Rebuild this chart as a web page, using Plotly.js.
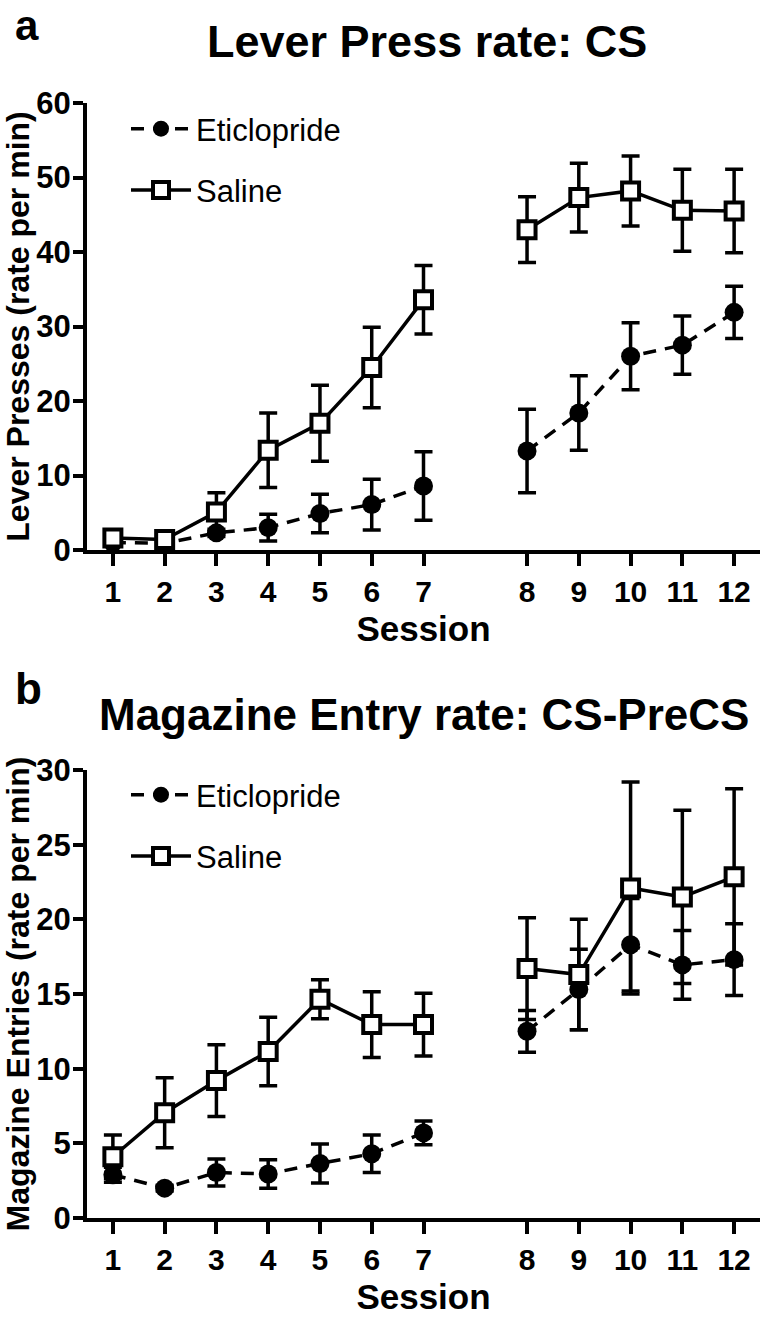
<!DOCTYPE html>
<html>
<head>
<meta charset="utf-8">
<script src="https://cdn.plot.ly/plotly-3.0.1.min.js"></script>
<style>
  html, body { margin: 0; padding: 0; background: #fff; }
  #chart { width: 768px; height: 1317px; }
</style>
</head>
<body>
<div id="chart"></div>
<script>
// Sessions (a gap is left between session 7 and 8 on the axis)
const sessions = [1, 2, 3, 4, 5, 6, 7, 8, 9, 10, 11, 12];

// a: Lever Press rate: CS (mean, SEM)
const leverEtic = [1.0, 0.9, 2.3, 3.0, 4.9, 6.1, 8.6, 13.3, 18.4, 26.0, 27.5, 31.9];
const leverEticErr = [0.3, 0.3, 0.5, 1.8, 2.6, 3.4, 4.6, 5.6, 5.0, 4.5, 3.9, 3.5];
const leverSal = [1.6, 1.4, 5.1, 13.4, 17.0, 24.5, 33.6, 43.0, 47.3, 48.2, 45.6, 45.5];
const leverSalErr = [0.4, 0.3, 2.6, 5.0, 5.1, 5.4, 4.6, 4.4, 4.6, 4.7, 5.5, 5.6];

// b: Magazine Entry rate: CS-PreCS (mean, SEM)
const magEtic = [2.9, 2.0, 3.05, 2.95, 3.65, 4.3, 5.7, 12.5, 15.3, 18.3, 16.95, 17.3];
const magEticErr = [0.5, 0.2, 0.9, 0.95, 1.3, 1.25, 0.8, 1.4, 2.7, 3.1, 2.3, 2.4];
const magSal = [4.1, 7.05, 9.2, 11.15, 14.65, 12.95, 12.95, 16.7, 16.3, 22.1, 21.5, 22.85];
const magSalErr = [1.45, 2.35, 2.4, 2.3, 1.3, 2.2, 2.1, 3.4, 3.7, 7.1, 5.8, 5.9];

const FONT = 'Liberation Sans, Arial, sans-serif';

// axis position of a session: sessions after 7 are shifted one slot right
function pos(s) { return s <= 7 ? s : s + 1; }

// insert a null between session 7 and 8 so the line breaks
function withGap(arr, gapValue) {
  const out = [];
  for (let i = 0; i < arr.length; ++i) {
    out.push(arr[i]);
    if (sessions[i] === 7) out.push(gapValue);
  }
  return out;
}
const xPos = withGap(sessions.map(pos), 8);

function etic(y, err, xa, ya, leg) {
  return {
    x: xPos, y: withGap(y, null), xaxis: xa, yaxis: ya,
    name: 'Eticlopride', legend: leg, legendgroup: 'e' + leg,
    mode: 'lines+markers', type: 'scatter', connectgaps: false, cliponaxis: false,
    line: { color: 'black', width: 3.5, dash: '13px,9px' },
    marker: { symbol: 'circle', size: 19, color: 'black' },
    error_y: { type: 'data', array: withGap(err, null), visible: true, color: 'black', thickness: 3.5, width: 9 },
  };
}
function saline(y, err, xa, ya, leg) {
  return {
    x: xPos, y: withGap(y, null), xaxis: xa, yaxis: ya,
    name: 'Saline', legend: leg, legendgroup: 's' + leg,
    mode: 'lines+markers', type: 'scatter', connectgaps: false, cliponaxis: false,
    line: { color: 'black', width: 3.5 },
    marker: { symbol: 'square', size: 17, color: 'white', line: { color: 'black', width: 4 } },
    error_y: { type: 'data', array: withGap(err, null), visible: true, color: 'black', thickness: 3.5, width: 9 },
  };
}

const data = [
  etic(leverEtic, leverEticErr, 'x', 'y', 'legend'),
  saline(leverSal, leverSalErr, 'x', 'y', 'legend'),
  etic(magEtic, magEticErr, 'x2', 'y2', 'legend2'),
  saline(magSal, magSalErr, 'x2', 'y2', 'legend2'),
];

const H = 1317, W = 768;
function xAxis(anchor) {
  return {
    anchor: anchor, domain: [87 / W, 760 / W], range: [0.5, 13.5],
    tickmode: 'array', tickvals: sessions.map(pos), ticktext: sessions.map(String),
    ticks: 'outside', ticklen: 12, tickwidth: 4, tickcolor: 'black',
    showline: true, linewidth: 4, linecolor: 'black', showgrid: false, zeroline: false,
    tickfont: { family: FONT, size: 30, weight: 'bold', color: 'black' },
    title: { text: 'Session', standoff: 10, font: { family: FONT, size: 35, weight: 'bold', color: 'black' } },
  };
}
function yAxis(anchor, top, bottom, max, dtick, label) {
  return {
    anchor: anchor, domain: [1 - bottom / H, 1 - top / H], range: [0, max], dtick: dtick,
    ticks: 'outside', ticklen: 10, tickwidth: 4, tickcolor: 'black', ticklabelstandoff: -4,
    showline: true, linewidth: 4, linecolor: 'black', showgrid: false, zeroline: false,
    tickfont: { family: FONT, size: 31, weight: 'bold', color: 'black' },
    title: { text: label, standoff: 2, font: { family: FONT, size: 32, weight: 'bold', color: 'black' } },
  };
}
function legendAt(top) {
  return {
    x: 126 / W, xanchor: 'left', y: 1 - top / H, yanchor: 'top',
    bgcolor: 'rgba(0,0,0,0)', traceorder: 'grouped', tracegroupgap: 18, itemwidth: 60,
    font: { family: FONT, size: 31, color: 'black' },
  };
}

const layout = {
  width: W, height: H,
  margin: { l: 0, r: 0, t: 0, b: 0 },
  paper_bgcolor: 'white', plot_bgcolor: 'white',
  showlegend: true,
  xaxis: xAxis('y'),
  yaxis: yAxis('x', 103, 550, 60, 10, 'Lever Presses (rate per min)'),
  xaxis2: xAxis('y2'),
  yaxis2: yAxis('x2', 770, 1218, 30, 5, 'Magazine Entries (rate per min)'),
  legend: legendAt(102),
  legend2: legendAt(768),
  annotations: [
    { text: 'a', xref: 'paper', yref: 'paper', x: 13 / W, y: 1, xanchor: 'left', yanchor: 'top', showarrow: false,
      font: { family: FONT, size: 42, weight: 'bold', color: 'black' } },
    { text: 'Lever Press rate: CS', xref: 'paper', yref: 'paper', x: 427 / W, y: 1 - 41 / H, xanchor: 'center', yanchor: 'middle', showarrow: false,
      font: { family: FONT, size: 45, weight: 'bold', color: 'black' } },
    { text: 'b', xref: 'paper', yref: 'paper', x: 13 / W, y: 1 - 688 / H, xanchor: 'left', yanchor: 'middle', showarrow: false,
      font: { family: FONT, size: 44, weight: 'bold', color: 'black' } },
    { text: 'Magazine Entry rate: CS-PreCS', xref: 'paper', yref: 'paper', x: 424 / W, y: 1 - 714 / H, xanchor: 'center', yanchor: 'middle', showarrow: false,
      font: { family: FONT, size: 44, weight: 'bold', color: 'black' } },
  ],
};

Plotly.newPlot('chart', data, layout, { displayModeBar: false, staticPlot: true });
</script>
</body>
</html>
